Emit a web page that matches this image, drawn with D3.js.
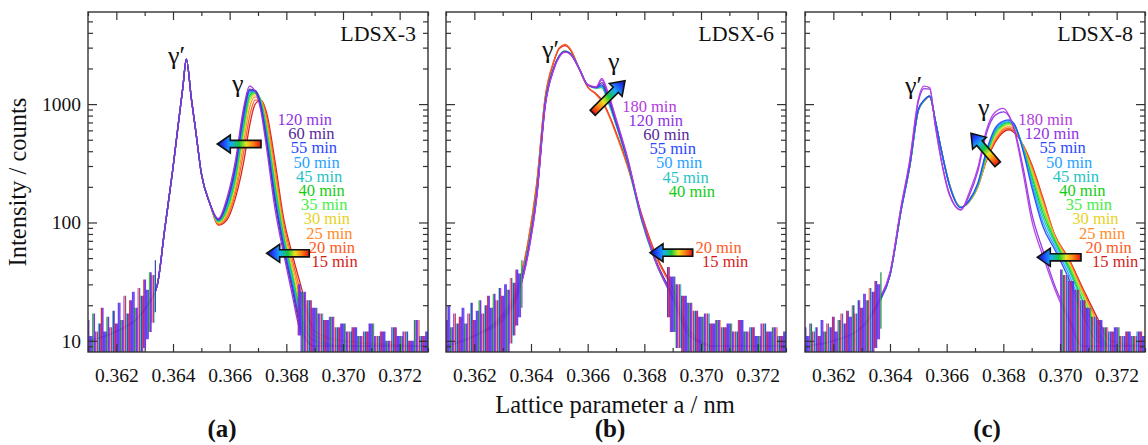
<!DOCTYPE html>
<html>
<head>
<meta charset="utf-8">
<script src="https://cdnjs.cloudflare.com/ajax/libs/d3/7.8.5/d3.min.js"></script>
<style>
  body { margin: 0; background: #fff; }
  text { font-family: "Liberation Serif", "DejaVu Serif", serif; }
</style>
</head>
<body>
<div class="chart"></div>
<script>
// ---------- data ----------

// axis ticks
var xMajorTicks = [0.362, 0.364, 0.366, 0.368, 0.370, 0.372];
var xMinorTicks = [0.361, 0.363, 0.365, 0.367, 0.369, 0.371, 0.373];
var yMajorTicks = [10, 100, 1000];
var yMinorTicks = [9, 20, 30, 40, 50, 60, 70, 80, 90, 200, 300, 400, 500, 600, 700, 800, 900, 2000, 3000, 4000, 5000];

// panel (a) LDSX-3 : gamma' part is shared by all times, gamma part per time
var gridA_left = [0.3610, 0.3620, 0.3628, 0.3631, 0.36345, 0.3637, 0.3640, 0.3642, 0.36435, 0.36447, 0.36465, 0.3648, 0.3650, 0.3653];
var gammaPrimeA = [10, 12, 16, 20, 30, 85, 290, 720, 1400, 2400, 1100, 600, 260, 145];
var gridA_right = [0.3656, 0.3659, 0.3662, 0.3665, 0.3667, 0.3669, 0.3671, 0.3673, 0.3676, 0.3679, 0.3682, 0.3685, 0.3690, 0.3700, 0.3730];
var timesA = ["120 min", "60 min", "55 min", "50 min", "45 min", "40 min", "35 min", "30 min", "25 min", "20 min", "15 min"];
var gammaA = [
  [108, 160, 330, 950, 1420, 1280, 880, 430, 130, 55, 25, 12, 9, 9, 9],
  [106, 150, 300, 880, 1340, 1300, 950, 480, 150, 60, 28, 13, 9, 9, 9],
  [105, 145, 285, 820, 1300, 1300, 980, 520, 160, 65, 30, 14, 9, 9, 9],
  [104, 140, 270, 780, 1270, 1300, 1010, 550, 170, 68, 32, 15, 10, 9, 9],
  [103, 135, 255, 730, 1230, 1290, 1040, 580, 185, 72, 34, 16, 10, 9, 9],
  [102, 130, 240, 680, 1180, 1270, 1060, 610, 200, 76, 36, 17, 10, 9, 9],
  [101, 125, 225, 620, 1120, 1240, 1080, 640, 215, 80, 38, 18, 11, 9, 9],
  [100, 120, 210, 560, 1050, 1200, 1090, 670, 235, 85, 41, 20, 11, 10, 9],
  [98, 115, 190, 480, 930, 1150, 1090, 720, 260, 92, 45, 23, 12, 10, 9],
  [96, 110, 175, 400, 780, 1080, 1080, 790, 290, 100, 50, 26, 12, 10, 9],
  [95, 105, 160, 330, 650, 1000, 1080, 850, 330, 110, 55, 30, 12, 10, 9]
];
// noisy tails: x positions, bottom and top of the spread of the traces
var noiseA_leftX = [0.3610, 0.3611, 0.3612, 0.3613, 0.3614, 0.3615, 0.3616, 0.3617, 0.3618, 0.3619, 0.3620, 0.3621, 0.3622, 0.3623, 0.3624, 0.3625, 0.3626, 0.3627, 0.3628, 0.3629, 0.3630, 0.3631, 0.3632, 0.3633, 0.3634];
var noiseA_leftLo = [8, 8, 8, 8, 8, 8, 8, 8, 8, 8, 8, 8, 8, 8, 8, 8, 8, 8, 9, 10, 11, 13, 15, 18, 22];
var noiseA_leftHi = [15, 11, 17, 12, 14, 19, 12, 16, 13, 18, 14, 21, 15, 24, 17, 22, 26, 19, 28, 24, 33, 27, 38, 36, 48];
var noiseA_rightX = [0.3684, 0.3686, 0.3688, 0.3690, 0.3692, 0.3694, 0.3696, 0.3698, 0.3700, 0.3702, 0.3704, 0.3706, 0.3708, 0.3710, 0.3712, 0.3714, 0.3716, 0.3718, 0.3720, 0.3722, 0.3724, 0.3726, 0.3728, 0.3730];
var noiseA_rightLo = [14, 10, 8, 8, 8, 8, 8, 8, 8, 8, 8, 8, 8, 8, 8, 8, 8, 8, 8, 8, 8, 8, 8, 8];
var noiseA_rightHi = [30, 26, 22, 19, 17, 15, 16, 13, 14, 12, 13, 11, 12, 14, 11, 12, 10, 13, 11, 12, 10, 15, 11, 12];

// panel (b) LDSX-6
var gridB = [0.3610, 0.3620, 0.3630, 0.3635, 0.3639, 0.3642, 0.3645, 0.3648, 0.3650, 0.3652, 0.3654, 0.3657, 0.3660, 0.3663, 0.3665, 0.3667, 0.3670, 0.3674, 0.3679, 0.3684, 0.3690, 0.3696, 0.3705, 0.3730];
var timesB = ["180 min", "120 min", "60 min", "55 min", "50 min", "45 min", "40 min", "20 min", "15 min"];
var intensB = [
  [9, 11, 15, 23, 54, 160, 950, 1950, 2500, 2750, 2620, 2000, 1460, 1400, 1650, 1300, 760, 360, 112, 47, 23, 11, 9, 9],
  [9, 11, 15, 23, 55, 163, 960, 1960, 2520, 2760, 2630, 2000, 1455, 1390, 1600, 1250, 740, 350, 111, 47, 23, 11, 9, 9],
  [9, 11, 16, 24, 56, 166, 980, 1980, 2530, 2770, 2640, 2000, 1450, 1385, 1520, 1200, 720, 345, 110, 48, 24, 11, 9, 9],
  [9, 11, 16, 24, 58, 170, 1000, 2000, 2550, 2780, 2650, 2000, 1450, 1380, 1450, 1150, 700, 340, 110, 48, 24, 11, 9, 9],
  [9, 11, 16, 25, 59, 173, 1010, 2010, 2560, 2790, 2660, 2000, 1450, 1375, 1420, 1120, 690, 335, 108, 47, 24, 11, 9, 9],
  [9, 11, 16, 25, 60, 176, 1020, 2020, 2570, 2800, 2670, 2010, 1450, 1370, 1400, 1100, 680, 330, 106, 47, 23, 11, 9, 9],
  [9, 11, 16, 25, 61, 180, 1030, 2030, 2580, 2810, 2680, 2020, 1450, 1365, 1380, 1080, 670, 325, 105, 46, 23, 11, 9, 9],
  [9, 11, 17, 27, 70, 215, 1150, 2300, 3000, 3200, 2900, 2000, 1400, 1200, 1050, 850, 560, 300, 115, 52, 27, 12, 9, 9],
  [9, 11, 17, 27, 68, 208, 1120, 2250, 2950, 3120, 2850, 1980, 1400, 1220, 1080, 870, 580, 310, 118, 54, 28, 12, 9, 9]
];
var noiseB_leftX = [0.3610, 0.3611, 0.3612, 0.3613, 0.3614, 0.3615, 0.3616, 0.3617, 0.3618, 0.3619, 0.3620, 0.3621, 0.3622, 0.3623, 0.3624, 0.3625, 0.3626, 0.3627, 0.3628, 0.3629, 0.3630, 0.3631, 0.3632, 0.3633, 0.3634, 0.3635, 0.3636, 0.3637];
var noiseB_leftLo = [8, 8, 8, 8, 8, 8, 8, 8, 8, 8, 8, 8, 8, 8, 8, 8, 8, 8, 8, 8, 8, 9, 10, 12, 14, 17, 20, 24];
var noiseB_leftHi = [15, 20, 13, 17, 14, 16, 19, 14, 17, 21, 15, 18, 22, 17, 20, 24, 19, 25, 22, 28, 24, 30, 27, 34, 31, 40, 37, 48];
var noiseB_rightX = [0.3688, 0.3690, 0.3692, 0.3694, 0.3696, 0.3698, 0.3700, 0.3702, 0.3704, 0.3706, 0.3708, 0.3710, 0.3712, 0.3714, 0.3716, 0.3718, 0.3720, 0.3722, 0.3724, 0.3726, 0.3728, 0.3730];
var noiseB_rightLo = [20, 15, 11, 9, 8, 8, 8, 8, 8, 8, 8, 8, 8, 8, 8, 8, 8, 8, 8, 8, 8, 8];
var noiseB_rightHi = [42, 35, 30, 24, 21, 18, 16, 17, 14, 15, 13, 14, 12, 15, 12, 13, 11, 14, 12, 13, 11, 12];

// panel (c) LDSX-8
var gridC = [0.3610, 0.3620, 0.3630, 0.3636, 0.3640, 0.3644, 0.3647, 0.3650, 0.3652, 0.3654, 0.3656, 0.3658, 0.3661, 0.3665, 0.3668, 0.3671, 0.3674, 0.3677, 0.3680, 0.3682, 0.3684, 0.3687, 0.3690, 0.3694, 0.3698, 0.3703, 0.3708, 0.3713, 0.3718, 0.3730];
var timesC = ["180 min", "120 min", "55 min", "50 min", "45 min", "40 min", "35 min", "30 min", "25 min", "20 min", "15 min"];
var intensC = [
  [9, 10, 13, 22, 38, 140, 340, 1100, 1420, 1380, 650, 340, 170, 128, 180, 290, 600, 850, 920, 800, 580, 260, 105, 52, 28, 15, 9, 9, 9, 9],
  [9, 10, 13, 22, 37, 138, 330, 1050, 1350, 1340, 660, 350, 175, 128, 170, 270, 560, 800, 860, 790, 600, 290, 120, 58, 30, 16, 9, 9, 9, 9],
  [9, 10, 13, 21, 36, 130, 305, 900, 1080, 1170, 730, 420, 205, 133, 155, 215, 400, 620, 720, 736, 670, 400, 200, 92, 60, 34, 17, 10, 9, 9],
  [9, 10, 13, 21, 36, 130, 304, 895, 1075, 1168, 728, 421, 206, 134, 154, 212, 390, 605, 705, 725, 665, 410, 215, 100, 64, 37, 19, 11, 9, 9],
  [9, 10, 13, 21, 36, 130, 303, 892, 1072, 1166, 726, 421, 207, 134, 153, 210, 380, 590, 690, 712, 660, 420, 230, 110, 68, 40, 21, 12, 9, 9],
  [9, 10, 13, 21, 36, 130, 302, 890, 1070, 1165, 724, 421, 208, 135, 152, 208, 370, 570, 675, 700, 650, 425, 245, 120, 71, 42, 22, 12, 9, 9],
  [9, 10, 13, 21, 36, 130, 302, 888, 1068, 1163, 723, 420, 208, 135, 152, 206, 360, 550, 660, 685, 640, 430, 260, 130, 74, 44, 24, 13, 9, 9],
  [9, 10, 13, 21, 36, 130, 301, 886, 1066, 1162, 722, 420, 209, 135, 151, 204, 350, 530, 640, 670, 630, 435, 275, 140, 76, 46, 25, 14, 10, 9],
  [9, 10, 13, 21, 36, 130, 301, 884, 1064, 1161, 721, 420, 209, 135, 151, 203, 342, 505, 620, 645, 610, 440, 290, 150, 78, 48, 26, 15, 10, 9],
  [9, 10, 13, 21, 36, 130, 300, 882, 1062, 1160, 720, 420, 210, 135, 150, 201, 336, 485, 600, 625, 585, 445, 300, 155, 79, 49, 27, 15, 10, 9],
  [9, 10, 13, 21, 36, 130, 300, 880, 1060, 1160, 720, 420, 210, 135, 150, 200, 330, 470, 580, 607, 570, 450, 310, 160, 80, 50, 28, 16, 10, 9]
];
var noiseC_leftX = [0.3610, 0.3611, 0.3612, 0.3613, 0.3614, 0.3615, 0.3616, 0.3617, 0.3618, 0.3619, 0.3620, 0.3621, 0.3622, 0.3623, 0.3624, 0.3625, 0.3626, 0.3627, 0.3628, 0.3629, 0.3630, 0.3631, 0.3632, 0.3633, 0.3634, 0.3635, 0.3636, 0.3637];
var noiseC_leftLo = [8, 8, 8, 8, 8, 8, 8, 8, 8, 8, 8, 8, 8, 8, 8, 8, 8, 8, 8, 8, 8, 8, 8, 8, 9, 11, 13, 16];
var noiseC_leftHi = [13, 11, 14, 12, 13, 11, 15, 12, 14, 13, 16, 12, 15, 17, 14, 18, 16, 20, 17, 22, 19, 25, 22, 28, 26, 32, 30, 38];
var noiseC_rightX = [0.3700, 0.3702, 0.3704, 0.3706, 0.3708, 0.3710, 0.3712, 0.3714, 0.3716, 0.3718, 0.3720, 0.3722, 0.3724, 0.3726, 0.3728, 0.3730];
var noiseC_rightLo = [8, 8, 8, 8, 8, 8, 8, 8, 8, 8, 8, 8, 8, 8, 8, 8];
var noiseC_rightHi = [40, 36, 32, 27, 22, 19, 16, 15, 13, 12, 13, 11, 12, 11, 12, 11];

// ---------- styles / layout ----------
var svgWidth = 1148;
var svgHeight = 445;
var plotTop = 12;
var plotSize = 340;
var serif = "'Liberation Serif', 'DejaVu Serif', serif";

var color = d3.scaleOrdinal()
  .domain(["180 min", "120 min", "60 min", "55 min", "50 min", "45 min", "40 min", "35 min", "30 min", "25 min", "20 min", "15 min"])
  .range(["#b23be0", "#9032e6", "#56289a", "#2a48ff", "#1fa2ff", "#1fc3c3", "#12cc12", "#46ee46", "#e6d21e", "#ff8a2a", "#ff5a1e", "#d41a1a"]);

function pairs(xs, ys) {
  return xs.map(function(x, i) { return [x, ys[i]]; });
}
function band(xs, lo, hi) {
  return xs.map(function(x, i) { return [x, lo[i], hi[i]]; });
}

var panels = [
  {
    left: 88, name: "LDSX-3", tag: "(a)", tagX: 222,
    series: gammaA.map(function(g, i) {
      return { time: timesA[i], pts: pairs(gridA_left.concat(gridA_right), gammaPrimeA.concat(g)) };
    }),
    noise: [band(noiseA_leftX, noiseA_leftLo, noiseA_leftHi), band(noiseA_rightX, noiseA_rightLo, noiseA_rightHi)],
    labels: [{ from: 0, to: 11, x: 244, y: 113, dx: 2.57 }],
    gp: [80, 52], g: [144, 80],
    arrows: [[173, 132, 129.3, 132], [221.3, 241.3, 178.7, 241.3]]
  },
  {
    left: 446, name: "LDSX-6", tag: "(b)", tagX: 610,
    series: intensB.map(function(v, i) { return { time: timesB[i], pts: pairs(gridB, v) }; }),
    noise: [band(noiseB_leftX, noiseB_leftLo, noiseB_leftHi), band(noiseB_rightX, noiseB_rightLo, noiseB_rightHi)],
    labels: [{ from: 0, to: 7, x: 230.7, y: 99.6, dx: 6.4 }, { from: 7, to: 9, x: 295.7, y: 240.6, dx: 6.6 }],
    gp: [96, 46], g: [162, 57.5],
    arrows: [[146.7, 100.7, 179, 68.7], [246.7, 240.7, 204, 240.7]]
  },
  {
    left: 805, name: "LDSX-8", tag: "(c)", tagX: 987,
    series: intensC.map(function(v, i) { return { time: timesC[i], pts: pairs(gridC, v) }; }),
    noise: [band(noiseC_leftX, noiseC_leftLo, noiseC_leftHi), band(noiseC_rightX, noiseC_rightLo, noiseC_rightHi)],
    labels: [{ from: 0, to: 11, x: 267.7, y: 113, dx: 6.56 }],
    gp: [100, 82], g: [173, 104],
    arrows: [[192.7, 152.3, 166, 121.3], [276, 245.3, 232.3, 245.3]]
  }
];

var svg = d3.select(".chart")
  .append("svg")
  .attr("width", svgWidth)
  .attr("height", svgHeight);

var defs = svg.append("defs");

// striped fill that mimics the multicoloured noise of the tails, mostly violet
var stripes = ["#7b2fe0", "#6a2ad0", "#2a48ff", "#8a36e6", "#7b2fe0", "#12cc12", "#6a2ad0", "#9032e6", "#ff8a2a", "#7b2fe0", "#1fc3c3", "#5a28b0", "#8a36e6", "#d41a1a"];
var pattern = defs.append("pattern")
  .attr("id", "noise")
  .attr("patternUnits", "userSpaceOnUse")
  .attr("width", stripes.length)
  .attr("height", 6);
stripes.forEach(function(c, i) {
  pattern.append("rect").attr("x", i).attr("y", 0).attr("width", 1).attr("height", 6).attr("fill", c);
});

// rainbow gradient for the arrows (tip -> tail)
var grad = defs.append("linearGradient")
  .attr("id", "rainbow")
  .attr("x1", "100%").attr("y1", "0%")
  .attr("x2", "0%").attr("y2", "0%");
[[0, "#14146e"], [0.14, "#1e3cff"], [0.32, "#18aef0"], [0.5, "#14c83c"], [0.66, "#e8e21e"], [0.82, "#ff8214"], [1, "#dc1414"]]
  .forEach(function(s) {
    grad.append("stop").attr("offset", s[0]).attr("stop-color", s[1]);
  });

var x = d3.scaleLinear().domain([0.361, 0.373]).range([0, plotSize]);
var y = d3.scaleLog().domain([8.05, 6000]).range([plotSize, 0]);

var line = d3.line()
  .x(function(d) { return x(d[0]); })
  .y(function(d) { return y(d[1]); })
  .curve(d3.curveMonotoneX);

// noise drawn as little bars, like the jagged tails of the traces
var area = d3.area()
  .x(function(d) { return x(d[0]); })
  .y0(function(d) { return y(d[1]) + 12; })
  .y1(function(d) { return y(d[2]); })
  .curve(d3.curveStep);

function drawArrow(g, x1, y1, x2, y2) {
  var len = Math.sqrt((x2 - x1) * (x2 - x1) + (y2 - y1) * (y2 - y1));
  var ang = Math.atan2(y2 - y1, x2 - x1) * 180 / Math.PI;
  var h = 13, sw = 3.6, hw = 9;
  var pts = [[0, -sw], [len - h, -sw], [len - h, -hw], [len, 0], [len - h, hw], [len - h, sw], [0, sw]];
  g.append("polygon")
    .attr("points", pts.map(function(p) { return p.join(","); }).join(" "))
    .attr("transform", "translate(" + x1 + "," + y1 + ") rotate(" + ang + ")")
    .attr("fill", "url(#rainbow)")
    .attr("stroke", "#111")
    .attr("stroke-width", 1.6)
    .attr("stroke-linejoin", "miter");
}

panels.forEach(function(p, pi) {
  var chartGroup = svg.append("g")
    .attr("transform", "translate(" + p.left + "," + plotTop + ")");

  defs.append("clipPath").attr("id", "clip" + pi)
    .append("rect").attr("width", plotSize).attr("height", plotSize);

  var plot = chartGroup.append("g").attr("clip-path", "url(#clip" + pi + ")");

  // curves, red first so that the long times end up on top
  p.series.slice().reverse().forEach(function(s) {
    plot.append("path")
      .attr("d", line(s.pts))
      .attr("fill", "none")
      .attr("stroke", color(s.time))
      .attr("stroke-width", 1.3)
      .attr("stroke-opacity", 0.95);
  });

  // noise of the tails, over the smooth tails of the curves
  p.noise.forEach(function(b) {
    plot.append("path")
      .attr("d", area(b))
      .attr("fill", "url(#noise)")
      .attr("opacity", 0.92);
  });

  // axes
  var axes = [
    [d3.axisBottom(x).tickValues(xMajorTicks).tickSize(-8).tickPadding(16).tickFormat(d3.format(".3f")), "translate(0," + plotSize + ")"],
    [d3.axisBottom(x).tickValues(xMinorTicks).tickSize(-4).tickFormat(""), "translate(0," + plotSize + ")"],
    [d3.axisTop(x).tickValues(xMajorTicks).tickSize(-8).tickFormat(""), "translate(0,0)"],
    [d3.axisTop(x).tickValues(xMinorTicks).tickSize(-4).tickFormat(""), "translate(0,0)"],
    [d3.axisLeft(y).tickValues(yMajorTicks).tickSize(-9).tickPadding(7).tickFormat(pi === 0 ? d3.format("d") : ""), "translate(0,0)"],
    [d3.axisLeft(y).tickValues(yMinorTicks).tickSize(-5).tickFormat(""), "translate(0,0)"],
    [d3.axisRight(y).tickValues(yMajorTicks).tickSize(-9).tickFormat(""), "translate(" + plotSize + ",0)"],
    [d3.axisRight(y).tickValues(yMinorTicks).tickSize(-5).tickFormat(""), "translate(" + plotSize + ",0)"]
  ];
  axes.forEach(function(a) {
    var ag = chartGroup.append("g").attr("transform", a[1]).call(a[0]);
    ag.attr("font-family", serif);
    ag.select(".domain").remove();
    ag.selectAll("line").attr("stroke", "#333").attr("stroke-width", 1.2);
    ag.selectAll("text")
      .attr("fill", "#111")
      .style("font-family", serif)
      .style("font-size", "19.5px");
  });

  // frame
  chartGroup.append("rect")
    .attr("width", plotSize).attr("height", plotSize)
    .attr("fill", "none")
    .attr("stroke", "#333")
    .attr("stroke-width", 1.4);

  // sample name
  chartGroup.append("text")
    .attr("x", plotSize - 12).attr("y", 28.5)
    .attr("text-anchor", "end")
    .style("font-family", serif)
    .style("font-size", "22px")
    .attr("fill", "#111")
    .text(p.name);

  // phase labels
  chartGroup.append("text")
    .attr("x", p.gp[0]).attr("y", p.gp[1])
    .style("font-family", serif)
    .style("font-size", "26px").attr("fill", "#111")
    .text("γ′");
  chartGroup.append("text")
    .attr("x", p.g[0]).attr("y", p.g[1])
    .style("font-family", serif)
    .style("font-size", "26px").attr("fill", "#111")
    .text("γ");

  // time labels
  var times = p.series.map(function(s) { return s.time; });
  p.labels.forEach(function(grp) {
    times.slice(grp.from, grp.to).forEach(function(t, i) {
      chartGroup.append("text")
        .attr("x", grp.x + i * grp.dx)
        .attr("y", grp.y + i * 14.2)
        .attr("text-anchor", "end")
        .style("font-family", serif)
        .style("font-size", "16.5px")
        .attr("fill", color(t))
        .text(t);
    });
  });

  // arrows
  p.arrows.forEach(function(a) { drawArrow(chartGroup, a[0], a[1], a[2], a[3]); });

  // panel tag
  svg.append("text")
    .attr("x", p.tagX).attr("y", 437)
    .attr("text-anchor", "middle")
    .style("font-family", serif)
    .style("font-size", "25px")
    .style("font-weight", "bold")
    .attr("fill", "#111")
    .text(p.tag);
});

// axis titles
svg.append("text")
  .attr("transform", "translate(26,182) rotate(-90)")
  .attr("text-anchor", "middle")
  .style("font-family", serif)
  .style("font-size", "24.5px")
  .attr("fill", "#111")
  .text("Intensity / counts");

svg.append("text")
  .attr("x", 615).attr("y", 413)
  .attr("text-anchor", "middle")
  .style("font-family", serif)
  .style("font-size", "24.5px")
  .attr("fill", "#111")
  .text("Lattice parameter a / nm");
</script>
</body>
</html>
